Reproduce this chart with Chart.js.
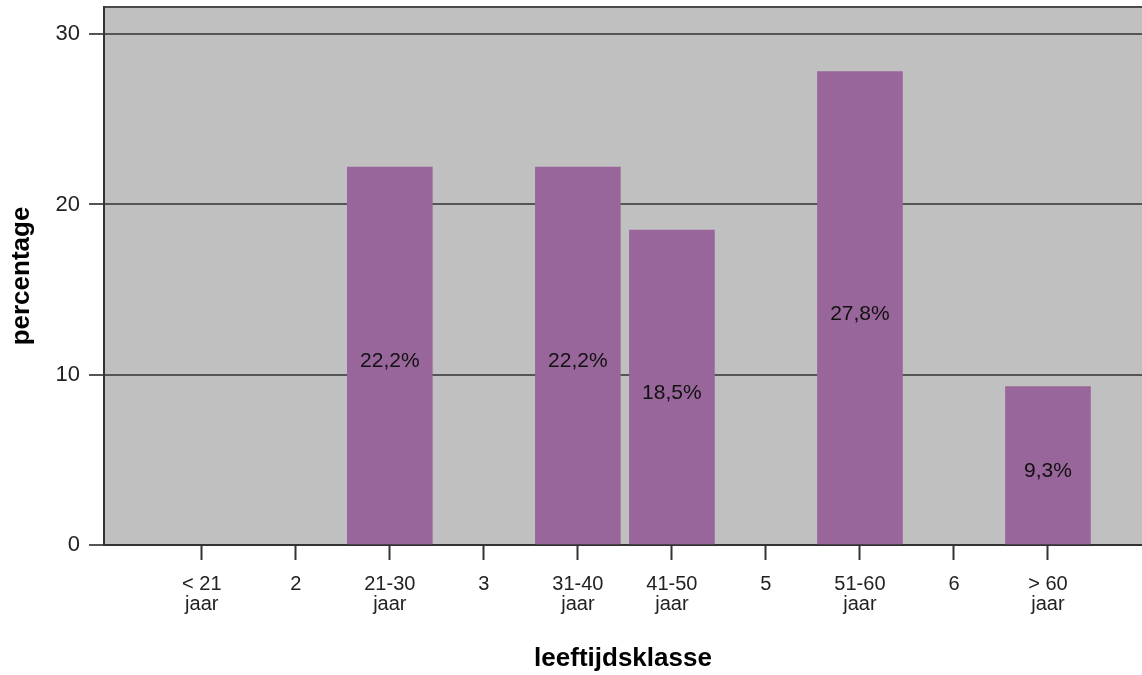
<!DOCTYPE html>
<html>
<head>
<meta charset="utf-8">
<script src="https://cdn.jsdelivr.net/npm/chart.js@4/dist/chart.umd.min.js"></script>
<style>
html, body { margin: 0; background: #fff; }
#wrap { width: 1142px; height: 675px; }
</style>
</head>
<body>
<div id="wrap"><canvas id="chart"></canvas></div>
<script>
// data
const categories = [['< 21', 'jaar'], '2', ['21-30', 'jaar'], '3', ['31-40', 'jaar'], ['41-50', 'jaar'], '5', ['51-60', 'jaar'], '6', ['> 60', 'jaar']];
const percentages = [0, 0, 22.2, 0, 22.2, 18.5, 0, 27.8, 0, 9.3];
const yTicks = [0, 10, 20, 30];

const FONT = "'Liberation Sans', Arial, sans-serif";

// grijze achtergrond van het plotvlak + bovenrand
const plotBackground = {
    id: 'plotBackground',
    beforeDraw(chart) {
        const { ctx, chartArea: a } = chart;
        ctx.save();
        ctx.fillStyle = '#c0c0c0';
        ctx.fillRect(a.left, a.top, a.right - a.left, a.bottom - a.top);
        ctx.strokeStyle = '#4a4a4a';
        ctx.lineWidth = 2;
        ctx.beginPath();
        ctx.moveTo(a.left, a.top);
        ctx.lineTo(a.right, a.top);
        ctx.stroke();
        ctx.restore();
    }
};

// percentages (ongeveer) midden in de staven
const barLabels = {
    id: 'barLabels',
    afterDatasetsDraw(chart) {
        const { ctx } = chart;
        const meta = chart.getDatasetMeta(0);
        ctx.save();
        ctx.font = '21px ' + FONT;
        ctx.fillStyle = '#111';
        ctx.textAlign = 'center';
        ctx.textBaseline = 'middle';
        meta.data.forEach((bar, i) => {
            const v = percentages[i];
            if (!v) return;
            ctx.fillText(v.toFixed(1).replace('.', ',') + '%', bar.x, (bar.y + bar.base) / 2 + 6);
        });
        ctx.restore();
    }
};

new Chart(document.getElementById('chart'), {
    type: 'bar',
    data: {
        datasets: [{
            data: percentages.map((v, i) => ({ x: i + 1, y: v })),
            backgroundColor: c => (c.raw && c.raw.y) ? '#98669a' : 'rgba(0,0,0,0)',
            borderWidth: 0,
            barThickness: 85
        }]
    },
    options: {
        responsive: true,
        maintainAspectRatio: false,
        animation: false,
        layout: { padding: { top: 7, right: 0, left: 0, bottom: 0 } },
        plugins: { legend: { display: false }, tooltip: { enabled: false } },
        scales: {
            x: {
                type: 'linear',
                offset: false,
                min: -0.04,
                max: 11,
                afterBuildTicks: s => { s.ticks = categories.map((_, i) => ({ value: i + 1 })); },
                afterFit: s => { s.height = 130; s.paddingLeft = 0; s.paddingRight = 0; },
                grid: { offset: false, drawOnChartArea: false, drawTicks: true, tickLength: 15, color: '#333', tickWidth: 2 },
                border: { color: '#333', width: 2 },
                ticks: {
                    autoSkip: false,
                    maxRotation: 0,
                    padding: 14,
                    color: '#222',
                    font: { family: FONT, size: 20, lineHeight: 1.0 },
                    callback: v => categories[Math.round(v) - 1]
                },
                title: {
                    display: true,
                    text: 'leeftijdsklasse',
                    color: '#000',
                    font: { family: FONT, size: 26, weight: 'bold' },
                    padding: { top: 0, bottom: 1 }
                }
            },
            y: {
                min: 0,
                max: 31.6,
                afterBuildTicks: s => { s.ticks = yTicks.map(v => ({ value: v })); },
                afterFit: s => { s.width = 104; s.paddingTop = 0; s.paddingBottom = 0; },
                grid: { color: '#555', lineWidth: 2, tickLength: 15 },
                border: { color: '#333', width: 2 },
                ticks: {
                    padding: 9,
                    color: '#222',
                    font: { family: FONT, size: 22 }
                },
                title: {
                    display: true,
                    text: 'percentage',
                    color: '#000',
                    font: { family: FONT, size: 26, weight: 'bold' },
                    padding: { top: 6, bottom: 5 }
                }
            }
        }
    },
    plugins: [plotBackground, barLabels]
});
</script>
</body>
</html>
